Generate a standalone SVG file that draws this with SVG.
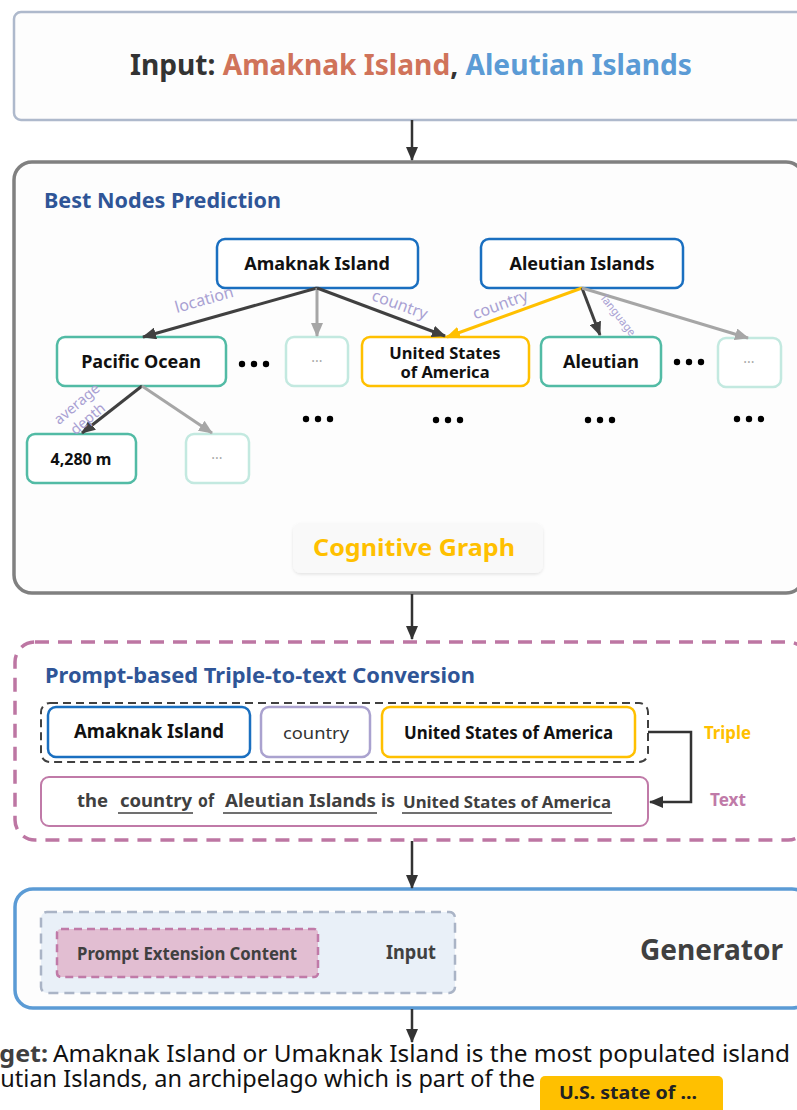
<svg xmlns="http://www.w3.org/2000/svg" width="797" height="1110" viewBox="0 0 797 1110">
  <defs>
    <style>
      .f { font-family: "Noto Sans", "Open Sans", "Liberation Sans", sans-serif; }
      .b { font-weight: bold; }
      .node { fill: #ffffff; stroke-width: 2.5; }
      .blue { stroke: #1a6fc0; }
      .teal { stroke: #52bba5; }
      .pale { stroke: #c3e9e0; }
      .gold { stroke: #ffc000; }
      .lilac { stroke: #aaa2cf; }
      .ntext { font-size: 18px; fill: #111; text-anchor: middle; dominant-baseline: central; }
      .etext { font-size: 16px; fill: #a9a1d3; text-anchor: middle; dominant-baseline: central; }
      .more { font-size: 14px; fill: #a8a8a8; text-anchor: middle; dominant-baseline: central; }
      .edge { fill: none; stroke-width: 3; }
      .dark { stroke: #404040; }
      .grey { stroke: #a6a6a6; }
      .yel { stroke: #ffc000; }
      .flow { fill: none; stroke: #333333; stroke-width: 2.5; }
      .dot { fill: #000; }
    </style>
    <marker id="ah-dark" viewBox="0 0 14 12" refX="13" refY="6" markerWidth="14" markerHeight="12" markerUnits="userSpaceOnUse" orient="auto">
      <path d="M0,0 L14,6 L0,12 z" fill="#404040"/>
    </marker>
    <marker id="ah-grey" viewBox="0 0 14 12" refX="13" refY="6" markerWidth="14" markerHeight="12" markerUnits="userSpaceOnUse" orient="auto">
      <path d="M0,0 L14,6 L0,12 z" fill="#a6a6a6"/>
    </marker>
    <marker id="ah-yel" viewBox="0 0 14 12" refX="13" refY="6" markerWidth="14" markerHeight="12" markerUnits="userSpaceOnUse" orient="auto">
      <path d="M0,0 L14,6 L0,12 z" fill="#ffc000"/>
    </marker>
    <marker id="ah-flow" viewBox="0 0 14 12" refX="13" refY="6" markerWidth="14" markerHeight="12" markerUnits="userSpaceOnUse" orient="auto">
      <path d="M0,0 L14,6 L0,12 z" fill="#333333"/>
    </marker>
    <filter id="soft" x="-10%" y="-20%" width="120%" height="150%">
      <feDropShadow dx="0" dy="1.5" stdDeviation="1.5" flood-color="#000" flood-opacity="0.10"/>
    </filter>
  </defs>

  <rect width="797" height="1110" fill="#ffffff"/>

  <!-- input panel -->
  <g id="input-panel">
    <rect x="14" y="12" width="790" height="108" rx="7" fill="#fdfdfd" stroke="#aeb9cc" stroke-width="2.5"/>
    <text class="f b" x="130" y="75" font-size="29" textLength="562" lengthAdjust="spacingAndGlyphs"><tspan fill="#333333">Input: </tspan><tspan fill="#d0735a">Amaknak Island</tspan><tspan fill="#333333">, </tspan><tspan fill="#5b9bd5">Aleutian Islands</tspan></text>
  </g>

  <!-- best nodes prediction panel -->
  <g id="best-nodes-panel">
    <rect x="14" y="162" width="790" height="431" rx="18" fill="#fdfdfd" stroke="#808080" stroke-width="3.5"/>
    <text class="f b" x="44" y="208" font-size="21" fill="#2f5597" textLength="237" lengthAdjust="spacingAndGlyphs">Best Nodes Prediction</text>
  </g>

  <g id="node-amaknak">
    <rect class="node blue" x="217" y="239" width="201" height="49" rx="8"/>
    <text class="f b ntext" x="317" y="263">Amaknak Island</text>
  </g>
  <g id="node-aleutian-islands">
    <rect class="node blue" x="481" y="239" width="202" height="49" rx="8"/>
    <text class="f b ntext" x="582" y="263">Aleutian Islands</text>
  </g>
  <g id="node-pacific">
    <rect class="node teal" x="57" y="337" width="169" height="49" rx="8"/>
    <text class="f b ntext" x="141" y="361">Pacific Ocean</text>
  </g>
  <g id="node-more-1">
    <rect class="node pale" x="286" y="337" width="62" height="49" rx="8"/>
    <text class="f more" x="317" y="360">···</text>
  </g>
  <g id="node-usa">
    <rect class="node gold" x="362" y="337" width="167" height="49" rx="8"/>
    <text class="f b ntext" x="445" y="352" style="font-size:16.5px">United States</text>
    <text class="f b ntext" x="445" y="371" style="font-size:16.5px">of America</text>
  </g>
  <g id="node-aleutian">
    <rect class="node teal" x="541" y="337" width="120" height="49" rx="8"/>
    <text class="f b ntext" x="601" y="361">Aleutian</text>
  </g>
  <g id="node-more-2">
    <rect class="node pale" x="718" y="338" width="63" height="49" rx="8"/>
    <text class="f more" x="749" y="361">···</text>
  </g>
  <g id="node-depth">
    <rect class="node teal" x="27" y="434" width="109" height="49" rx="8"/>
    <text class="f b ntext" x="81" y="459" style="font-size:16px">4,280 m</text>
  </g>
  <g id="node-more-3">
    <rect class="node pale" x="186" y="434" width="63" height="49" rx="8"/>
    <text class="f more" x="217" y="457">···</text>
  </g>

  <!-- ellipsis marks -->
  <g id="ellipses">
    <circle class="dot" cx="242" cy="364" r="3.2"/><circle class="dot" cx="254" cy="364" r="3.2"/><circle class="dot" cx="266" cy="364" r="3.2"/>
    <circle class="dot" cx="677" cy="362" r="3.2"/><circle class="dot" cx="689" cy="362" r="3.2"/><circle class="dot" cx="701" cy="362" r="3.2"/>
    <circle class="dot" cx="306" cy="419" r="3.2"/><circle class="dot" cx="318" cy="419" r="3.2"/><circle class="dot" cx="330" cy="419" r="3.2"/>
    <circle class="dot" cx="436" cy="420" r="3.2"/><circle class="dot" cx="448" cy="420" r="3.2"/><circle class="dot" cx="460" cy="420" r="3.2"/>
    <circle class="dot" cx="588" cy="420" r="3.2"/><circle class="dot" cx="600" cy="420" r="3.2"/><circle class="dot" cx="612" cy="420" r="3.2"/>
    <circle class="dot" cx="737" cy="419" r="3.2"/><circle class="dot" cx="749" cy="419" r="3.2"/><circle class="dot" cx="761" cy="419" r="3.2"/>
  </g>

  <g id="cognitive-graph-label">
    <rect x="293" y="523" width="250" height="50" rx="8" fill="#f9f9f9" filter="url(#soft)"/>
    <text class="f b" x="313" y="556" font-size="24" fill="#ffc000" textLength="202" lengthAdjust="spacingAndGlyphs">Cognitive Graph</text>
  </g>

  <!-- triple-to-text panel -->
  <g id="triple-panel">
    <rect x="15" y="642" width="793" height="198" rx="20" fill="#ffffff" stroke="#bd76a3" stroke-width="3.5" stroke-dasharray="14 9"/>
    <text class="f b" x="45" y="683" font-size="21" fill="#2f5597" textLength="430" lengthAdjust="spacingAndGlyphs">Prompt-based Triple-to-text Conversion</text>
  </g>

  <g id="triple">
    <rect x="41" y="703" width="607" height="59" rx="9" fill="none" stroke="#404040" stroke-width="2" stroke-dasharray="8 5"/>
    <g id="triple-head">
      <rect class="node blue" x="48" y="707" width="202" height="50" rx="8"/>
      <text class="f b" x="74" y="738" font-size="19" fill="#111" textLength="150" lengthAdjust="spacingAndGlyphs">Amaknak Island</text>
    </g>
    <g id="triple-relation">
      <rect class="node lilac" x="261" y="707" width="109" height="50" rx="8"/>
      <text class="f" x="283" y="739" font-size="17" fill="#333" textLength="66" lengthAdjust="spacingAndGlyphs">country</text>
    </g>
    <g id="triple-tail">
      <rect class="node gold" x="382" y="707" width="253" height="50" rx="8"/>
      <text class="f b" x="404" y="739" font-size="17" fill="#111" textLength="209" lengthAdjust="spacingAndGlyphs">United States of America</text>
    </g>
  </g>
  <text class="f b" x="704" y="739" font-size="17" fill="#ffc000" textLength="47" lengthAdjust="spacingAndGlyphs">Triple</text>

  <g id="sentence">
    <rect x="41" y="777" width="607" height="49" rx="8" fill="#ffffff" stroke="#c07aa8" stroke-width="2"/>
    <g class="f b" fill="#404040" font-size="18">
      <text x="77" y="807" textLength="31" lengthAdjust="spacingAndGlyphs">the</text>
      <text x="120" y="807" textLength="72" lengthAdjust="spacingAndGlyphs">country</text>
      <text x="198" y="807" textLength="16" lengthAdjust="spacingAndGlyphs">of</text>
      <text x="225" y="807" textLength="151" lengthAdjust="spacingAndGlyphs">Aleutian Islands</text>
      <text x="381" y="807" textLength="14" lengthAdjust="spacingAndGlyphs">is</text>
      <text x="403" y="808" font-size="16" textLength="208" lengthAdjust="spacingAndGlyphs">United States of America</text>
    </g>
    <g stroke="#404040" stroke-width="1.5">
      <line x1="118" y1="813" x2="193" y2="813"/>
      <line x1="223" y1="813" x2="377" y2="813"/>
      <line x1="402" y1="813" x2="612" y2="813"/>
    </g>
  </g>
  <text class="f b" x="710" y="806" font-size="17" fill="#c07aa8" textLength="36" lengthAdjust="spacingAndGlyphs">Text</text>

  <!-- generator panel -->
  <g id="generator">
    <rect x="15" y="889" width="795" height="119" rx="18" fill="#fdfdfd" stroke="#5b9bd5" stroke-width="3.5"/>
    <rect x="41" y="912" width="414" height="81" rx="6" fill="#e9f0f8" stroke="#aab4c6" stroke-width="2.5" stroke-dasharray="10 6"/>
    <rect x="57" y="929" width="261" height="48" rx="4" fill="#e2bed2" stroke="#c07aa8" stroke-width="2.5" stroke-dasharray="8 5"/>
    <text class="f b" x="77" y="960" font-size="17" fill="#404040" textLength="220" lengthAdjust="spacingAndGlyphs">Prompt Extension Content</text>
    <text class="f b" x="386" y="959" font-size="20" fill="#404040" textLength="50" lengthAdjust="spacingAndGlyphs">Input</text>
    <text class="f b" x="640" y="960" font-size="28" fill="#404040" textLength="143" lengthAdjust="spacingAndGlyphs">Generator</text>
  </g>

  <!-- output sentence, running past the left edge -->
  <g id="target">
    <text class="f b" x="-39" y="1062" font-size="24" fill="#404040" textLength="87" lengthAdjust="spacingAndGlyphs">Target:</text>
    <text class="f" x="53" y="1062" font-size="24" fill="#111" textLength="737" lengthAdjust="spacingAndGlyphs">Amaknak Island or Umaknak Island is the most populated island</text>
    <text class="f" x="-34" y="1087" font-size="24" fill="#111" textLength="569" lengthAdjust="spacingAndGlyphs">Aleutian Islands, an archipelago which is part of the</text>
    <rect x="540" y="1076" width="183" height="40" rx="5" fill="#ffc000"/>
    <text class="f b" x="559" y="1099" font-size="18" fill="#222" textLength="138" lengthAdjust="spacingAndGlyphs">U.S. state of ...</text>
  </g>

  <!-- connectors -->
  <g id="connectors">
    <path class="edge dark" d="M317,288 L143,337" marker-end="url(#ah-dark)"/>
    <path class="edge grey" d="M317,288 L317,336" marker-end="url(#ah-grey)"/>
    <path class="edge dark" d="M317,288 L445,336" marker-end="url(#ah-dark)"/>
    <path class="edge yel" d="M582,288 L447,337" marker-end="url(#ah-yel)"/>
    <path class="edge dark" d="M582,288 L600,335" marker-end="url(#ah-dark)"/>
    <path class="edge grey" d="M582,288 L748,338" marker-end="url(#ah-grey)"/>
    <path class="edge dark" d="M142,386 L82,433" marker-end="url(#ah-dark)"/>
    <path class="edge grey" d="M142,386 L212,433" marker-end="url(#ah-grey)"/>

    <text class="f etext" x="204" y="299" transform="rotate(-16 204 299)">location</text>
    <text class="f etext" x="400" y="304" transform="rotate(20 400 304)">country</text>
    <text class="f etext" x="500" y="304" transform="rotate(-20 500 304)">country</text>
    <text class="f etext" x="619" y="315" style="font-size:11px" transform="rotate(52 619 315)">language</text>
    <text class="f etext" x="76" y="403" style="font-size:14.5px" transform="rotate(-40 76 403)">average</text>
    <text class="f etext" x="87" y="418" style="font-size:14.5px" transform="rotate(-40 87 418)">depth</text>

    <path class="flow" d="M412,120 L412,160" marker-end="url(#ah-flow)"/>
    <path class="flow" d="M412,594 L412,639" marker-end="url(#ah-flow)"/>
    <path class="flow" d="M412,841 L412,888" marker-end="url(#ah-flow)"/>
    <path class="flow" d="M412,1009 L412,1042" marker-end="url(#ah-flow)"/>
    <path class="flow" d="M648,732 L691,732 L691,802 L650,802" stroke="#404040" marker-end="url(#ah-flow)"/>
  </g>
</svg>
